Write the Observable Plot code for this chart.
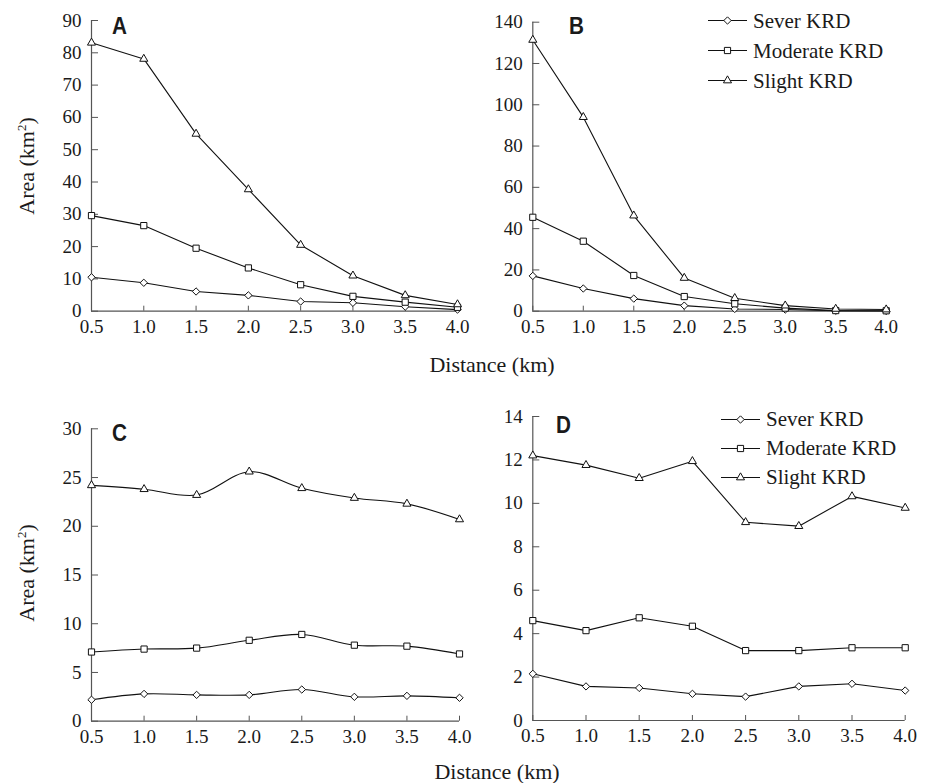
<!DOCTYPE html>
<html>
<head>
<meta charset="utf-8">
<script src="https://cdn.jsdelivr.net/npm/d3@7"></script>
<script src="https://cdn.jsdelivr.net/npm/@observablehq/plot@0.6"></script>
<style>
  body { margin: 0; background: white; }
  #root { position: relative; width: 928px; height: 783px; background: white; overflow: hidden; font-family: "Liberation Serif", "Times New Roman", serif; color: #1a1a1a; }
  #root svg, #root svg text { font-family: "Liberation Serif", "Times New Roman", serif !important; }
  #root svg { font-size: 19px !important; }
  .pnl { position: absolute; }
  .letter { position: absolute; font-family: "Liberation Sans", Arial, sans-serif; font-weight: bold; font-size: 23px; line-height: 1; transform: scaleX(0.9); transform-origin: left top; }
  .ytitle { position: absolute; font-size: 22px; white-space: nowrap; transform: translate(-50%, -50%) rotate(-90deg); }
  .ytitle sup { font-size: 13px; vertical-align: 0.6em; line-height: 0; }
  .xtitle { position: absolute; font-size: 22px; white-space: nowrap; transform: translate(-50%, -50%); }
  .legend { position: absolute; font-size: 21px; }
  .legend .row { position: absolute; left: 0; white-space: nowrap; display: flex; align-items: center; transform: translateY(-50%); }
  .legend svg { display: block; margin-right: 6px; }
</style>
</head>
<body>
<div id="root"></div>
<script>
// ---------- data ----------
const distance = [0.5, 1.0, 1.5, 2.0, 2.5, 3.0, 3.5, 4.0];
const seriesNames = ["Sever KRD", "Moderate KRD", "Slight KRD"];
const seriesSymbols = ["diamond2", "square", "triangle"];

const aSever    = [10.5, 8.8, 6.1, 4.9, 3.0, 2.6, 1.4, 0.5];
const aModerate = [29.6, 26.5, 19.5, 13.4, 8.2, 4.6, 2.8, 1.2];
const aSlight   = [83.1, 78.1, 54.9, 37.7, 20.5, 11.0, 4.9, 2.1];

const bSever    = [17.1, 11.0, 6.1, 2.7, 1.1, 0.8, 0.2, 0.1];
const bModerate = [45.5, 33.9, 17.3, 7.1, 3.6, 1.5, 0.3, 0.2];
const bSlight   = [131.4, 94.0, 46.3, 16.1, 6.3, 2.7, 1.1, 0.8];

const cSever    = [2.2, 2.8, 2.7, 2.7, 3.25, 2.5, 2.6, 2.4];
const cModerate = [7.1, 7.4, 7.5, 8.3, 8.9, 7.8, 7.7, 6.9];
const cSlight   = [24.2, 23.8, 23.2, 25.6, 23.9, 22.9, 22.3, 20.7];

const dSever    = [2.15, 1.57, 1.5, 1.23, 1.1, 1.57, 1.69, 1.38];
const dModerate = [4.6, 4.14, 4.73, 4.34, 3.22, 3.22, 3.35, 3.35];
const dSlight   = [12.2, 11.76, 11.16, 11.94, 9.13, 8.95, 10.32, 9.79];

const aTicks = [0, 10, 20, 30, 40, 50, 60, 70, 80, 90];
const bTicks = [0, 20, 40, 60, 80, 100, 120, 140];
const cTicks = [0, 5, 10, 15, 20, 25, 30];
const dTicks = [0, 2, 4, 6, 8, 10, 12, 14];
const xTickLabels = ["0.5", "1.0", "1.5", "2.0", "2.5", "3.0", "3.5", "4.0"];

const panelLetters = ["A", "B", "C", "D"];
const yTitle = "Area (km";
const xTitle = "Distance (km)";

// ---------- layout ----------
const root = document.getElementById("root");
const symR = {diamond2: 3.3, square: 3.5, triangle: 3.0};
const axisColor = "#555";
const fontStack = "Liberation Serif, Times New Roman, serif";

function panel(series, yTicks, box, curve) {
  const yMax = yTicks[yTicks.length - 1];
  const marks = [
    Plot.ruleX([0.5], {y1: 0, y2: yMax, stroke: axisColor, strokeWidth: 1.2}),
    Plot.ruleY([0], {x1: 0.5, x2: 4.0, stroke: axisColor, strokeWidth: 1.2}),
    Plot.axisY({ticks: yTicks, tickSize: -7, tickFormat: () => "", stroke: axisColor, label: null}),
    Plot.axisY({ticks: yTicks, tickSize: 0, tickPadding: 10, tickFormat: d => String(d), label: null, fill: "#1a1a1a", fontFamily: fontStack, fontSize: 19}),
    Plot.axisX({ticks: distance, tickSize: -5, tickFormat: () => "", stroke: axisColor, label: null}),
    Plot.axisX({ticks: distance, tickSize: 0, tickPadding: 8, tickFormat: (d, i) => xTickLabels[i], label: null, fill: "#1a1a1a", fontFamily: fontStack, fontSize: 19})
  ];
  series.forEach((vals, k) => {
    marks.push(Plot.line(vals, {x: (d, i) => distance[i], y: d => d, stroke: "#111", strokeWidth: 1.1, curve}));
  });
  series.forEach((vals, k) => {
    const s = seriesSymbols[k];
    marks.push(Plot.dot(vals, {x: (d, i) => distance[i], y: d => d, symbol: s, r: symR[s], fill: "white", stroke: "#111", strokeWidth: 1}));
  });
  const chart = Plot.plot({
    width: box.width, height: box.height,
    marginLeft: box.ml, marginRight: box.mr, marginTop: box.mt, marginBottom: box.mb,
    x: {domain: [0.5, 4.0], axis: null},
    y: {domain: [0, yMax], axis: null},
    style: {fontFamily: fontStack, fontSize: "19px", background: "transparent", overflow: "visible"},
    marks
  });
  chart.classList.add("pnl");
  chart.style.left = box.left + "px";
  chart.style.top = box.top + "px";
  chart.style.fontFamily = fontStack;
  root.appendChild(chart);
}

panel([aSever, aModerate, aSlight], aTicks, {left: 0, top: 0, width: 470, height: 345, ml: 91, mr: 13, mt: 20, mb: 34.3}, "linear");
panel([bSever, bModerate, bSlight], bTicks, {left: 464, top: 0, width: 464, height: 345, ml: 68.3, mr: 42.3, mt: 21.7, mb: 34.3}, "linear");
panel([cSever, cModerate, cSlight], cTicks, {left: 0, top: 390, width: 470, height: 393, ml: 91, mr: 11, mt: 38.3, mb: 62.3}, "catmull-rom");
panel([dSever, dModerate, dSlight], dTicks, {left: 464, top: 390, width: 464, height: 393, ml: 68.3, mr: 23.3, mt: 26, mb: 63}, "linear");

// panel letters
[[112, 18], [569, 18], [112, 425], [556, 417]].forEach(([x, y], i) => {
  const el = document.createElement("div");
  el.className = "letter";
  el.textContent = panelLetters[i];
  el.style.left = x + "px";
  el.style.top = (y - 3) + "px";
  root.appendChild(el);
});

// y titles
[[27, 166], [27, 573]].forEach(([x, y]) => {
  const el = document.createElement("div");
  el.className = "ytitle";
  el.innerHTML = yTitle + "<sup>2</sup>)";
  el.style.left = x + "px";
  el.style.top = y + "px";
  root.appendChild(el);
});

// x titles
[[492, 365], [497, 772]].forEach(([x, y]) => {
  const el = document.createElement("div");
  el.className = "xtitle";
  el.textContent = xTitle;
  el.style.left = x + "px";
  el.style.top = y + "px";
  root.appendChild(el);
});

// legends
function symbolPath(name) {
  const map = {diamond2: d3.symbolDiamond2 || d3.symbolDiamond, square: d3.symbolSquare, triangle: d3.symbolTriangle};
  const r = symR[name];
  return d3.symbol(map[name], r * r * Math.PI)();
}
function legend(left, rows) {
  const lg = document.createElement("div");
  lg.className = "legend";
  lg.style.left = left + "px";
  lg.style.top = "0px";
  seriesNames.forEach((name, k) => {
    const row = document.createElement("div");
    row.className = "row";
    row.style.top = rows[k] + "px";
    const svg = d3.create("svg").attr("width", 39).attr("height", 14);
    svg.append("line").attr("x1", 0).attr("x2", 39).attr("y1", 7).attr("y2", 7).attr("stroke", "#111").attr("stroke-width", 1.1);
    svg.append("path").attr("d", symbolPath(seriesSymbols[k])).attr("transform", "translate(19.5,7)").attr("fill", "white").attr("stroke", "#111");
    row.appendChild(svg.node());
    const t = document.createElement("span");
    t.textContent = name;
    row.appendChild(t);
    lg.appendChild(row);
  });
  root.appendChild(lg);
}
legend(708, [20.7, 50.7, 80.5]);
legend(721, [419, 448, 477]);
</script>
</body>
</html>
